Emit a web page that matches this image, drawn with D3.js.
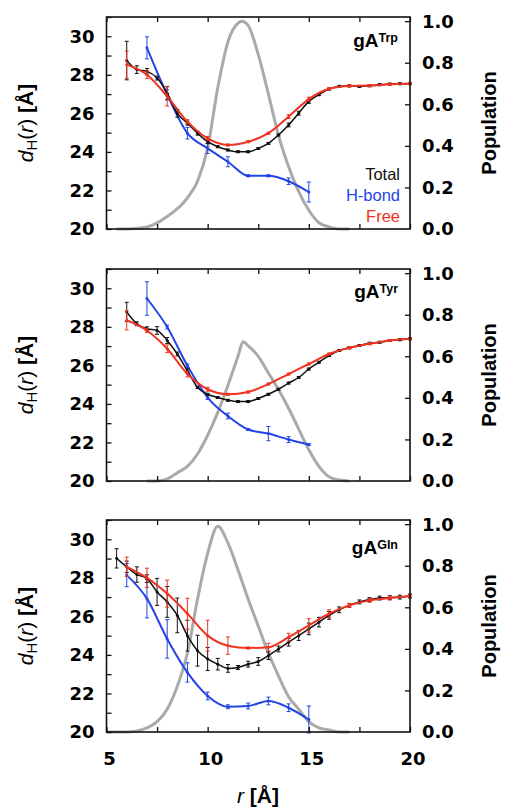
<!DOCTYPE html>
<html><head><meta charset="utf-8">
<script src="https://cdn.jsdelivr.net/npm/d3@7"></script>
<style>body{margin:0;background:#fff}svg{display:block}</style>
</head><body>
<svg id="c" width="514" height="812"></svg>
<script>
// ---------- data ----------
const panelNames = ["Trp", "Tyr", "Gln"];
const xTicks = [5, 10, 15, 20];
const yLeftTicks = [20, 22, 24, 26, 28, 30];
const yRightTicks = [0.0, 0.2, 0.4, 0.6, 0.8, 1.0];
const legendLabels = ["Total", "H-bond", "Free"];

// gA-Trp
const trpTotalR = [6,6.5,7,7.5,8,8.5,9,9.5,10,10.5,11,11.5,12,12.5,13,13.5,14,14.5,15,15.5,16,16.5,17,17.5,18,18.5,19,19.5,20];
const trpTotalV = [28.74,28.27,28.18,27.83,27.05,26.0,25.49,24.97,24.53,24.27,24.10,24.01,24.01,24.18,24.44,24.88,25.40,26.01,26.62,26.97,27.26,27.40,27.43,27.40,27.43,27.49,27.52,27.54,27.54];
const trpTotalE = [1.0,0.2,0.15,0.1,0.35,0.2,0.1,0.1,0.1,0.05,0.05,0.05,0.05,0.05,0.05,0.05,0.1,0.1,0.1,0.05,0.05,0.05,0.05,0.05,0.05,0.05,0.05,0.05,0.05];
const trpFreeR = [6,7,8,9,10,11,12,13,14,15,16,17,18,19,20];
const trpFreeV = [28.53,28.0,26.88,25.57,24.70,24.36,24.53,24.97,25.83,26.74,27.28,27.42,27.44,27.51,27.55];
const trpFreeE = [0.7,0.2,0.5,0.1,0.1,0.05,0.05,0.05,0.1,0.1,0.05,0.05,0.05,0.05,0.05];
const trpHbR = [7,8,9,10,11,12,13,14,15];
const trpHbV = [29.40,26.97,24.97,24.18,23.49,22.76,22.76,22.48,21.92];
const trpHbE = [0.57,0.25,0.3,0.26,0.26,0.05,0.05,0.17,0.52];
const trpPopR = [5.5,6,7,8,9,9.5,10,10.5,11,11.5,11.7,12,12.5,13,13.5,14,14.5,15,15.5,16,16.5,17];
const trpPopV = [0,0,0.01,0.06,0.15,0.23,0.39,0.68,0.90,0.99,1.0,0.98,0.84,0.65,0.45,0.30,0.18,0.09,0.03,0.01,0,0];

// gA-Tyr
const tyrTotalR = trpTotalR;
const tyrTotalV = [28.77,28.16,27.90,27.81,27.29,26.59,25.72,24.85,24.50,24.33,24.19,24.12,24.12,24.28,24.50,24.76,25.08,25.37,25.81,26.16,26.51,26.77,26.91,27.03,27.15,27.20,27.29,27.33,27.38];
const tyrTotalE = [0.5,0.1,0.1,0.2,0.15,0.1,0.1,0.05,0.05,0.05,0.05,0.05,0.05,0.05,0.05,0.05,0.05,0.05,0.05,0.05,0.05,0.05,0.05,0.05,0.05,0.05,0.05,0.05,0.05];
const tyrFreeR = trpFreeR;
const tyrFreeV = [28.34,27.81,26.86,25.55,24.76,24.50,24.62,25.03,25.55,26.07,26.59,26.91,27.12,27.29,27.38];
const tyrFreeE = [0.5,0.1,0.2,0.15,0.1,0.05,0.05,0.05,0.05,0.05,0.05,0.05,0.05,0.05,0.05];
const tyrHbR = trpHbR;
const tyrHbV = [29.47,27.99,25.98,24.33,23.37,22.67,22.46,22.15,21.89];
const tyrHbE = [0.87,0.1,0.1,0.1,0.15,0.05,0.37,0.15,0.05];
const tyrPopR = [7,7.5,8,8.5,9,9.5,10,10.5,11,11.5,11.75,12,12.5,13,13.5,14,14.5,15,15.5,16,16.5,17];
const tyrPopV = [0,0,0.01,0.04,0.07,0.13,0.22,0.33,0.46,0.60,0.67,0.65,0.60,0.52,0.44,0.35,0.25,0.15,0.07,0.02,0.005,0];

// gA-Gln
const glnTotalR = [5.5,6,6.5,7,7.5,8,8.5,9,9.5,10,10.5,11,11.5,12,12.5,13,13.5,14,14.5,15,15.5,16,16.5,17,17.5,18,18.5,19,19.5,20];
const glnTotalV = [29.01,28.57,28.17,27.96,27.27,26.75,26.05,25.0,24.22,23.79,23.52,23.30,23.35,23.52,23.66,23.96,24.31,24.66,25.0,25.35,25.70,26.05,26.34,26.57,26.75,26.87,26.95,26.97,27.0,27.06];
const glnTotalE = [0.5,0.3,0.4,0.2,0.7,0.8,0.9,0.8,0.8,0.6,0.3,0.2,0.1,0.15,0.2,0.2,0.15,0.2,0.25,0.3,0.25,0.2,0.15,0.1,0.1,0.1,0.1,0.1,0.1,0.1];
const glnFreeR = trpFreeR;
const glnFreeV = [28.57,28.0,27.18,26.14,25.0,24.48,24.36,24.40,24.92,25.53,26.14,26.57,26.83,26.95,27.06];
const glnFreeE = [0.5,0.5,0.7,0.8,0.8,0.45,0.05,0.2,0.2,0.35,0.2,0.1,0.1,0.1,0.1];
const glnHbR = [6,7,8,9,10,11,12,13,14,15];
const glnHbV = [28.14,26.92,24.83,23.09,21.87,21.31,21.35,21.61,21.26,20.65];
const glnHbE = [0.6,1.0,1.0,0.5,0.2,0.1,0.15,0.2,0.2,0.7];
const glnPopR = [5,6,7,7.5,8,8.5,9,9.5,10,10.5,11,11.5,12,12.5,13,13.5,14,14.5,15,15.5,16,16.5,17];
const glnPopV = [0,0,0.02,0.05,0.11,0.22,0.38,0.64,0.86,0.99,0.91,0.78,0.64,0.51,0.38,0.27,0.17,0.11,0.05,0.02,0.01,0,0];

const panels = [
  {name:"Trp", total:[trpTotalR,trpTotalV,trpTotalE], free:[trpFreeR,trpFreeV,trpFreeE], hb:[trpHbR,trpHbV,trpHbE], pop:[trpPopR,trpPopV]},
  {name:"Tyr", total:[tyrTotalR,tyrTotalV,tyrTotalE], free:[tyrFreeR,tyrFreeV,tyrFreeE], hb:[tyrHbR,tyrHbV,tyrHbE], pop:[tyrPopR,tyrPopV]},
  {name:"Gln", total:[glnTotalR,glnTotalV,glnTotalE], free:[glnFreeR,glnFreeV,glnFreeE], hb:[glnHbR,glnHbV,glnHbE], pop:[glnPopR,glnPopV]}
];

// ---------- layout ----------
const svg = d3.select("#c");
const L = 106.5, R = 410, H = 212;
const tops = [17, 269, 520];
const labelOffsets = [30, 29, 34];
const COL = {total:"#111111", hb:"#2244e8", free:"#ee3322", pop:"#aaaaaa"};
const tickFont = "'DejaVu Sans', sans-serif";
const x = d3.scaleLinear().domain([5,20]).range([L,R]);

panels.forEach((p, i) => {
  const top = tops[i];
  const y = d3.scaleLinear().domain([20,31]).range([top+H, top]);
  const y2 = d3.scaleLinear().domain([0,1.02]).range([top+H, top]);
  const g = svg.append("g");

  // population curve
  const popData = p.pop[0].map((r,k)=>[r,p.pop[1][k]]);
  g.append("path").datum(popData)
    .attr("d", d3.line().x(d=>x(d[0])).y(d=>y2(d[1])).curve(d3.curveMonotoneX))
    .attr("fill","none").attr("stroke",COL.pop).attr("stroke-width",3);

  const drawSeries = (s, col, w) => {
    const data = s[0].map((r,k)=>({r, v:s[1][k], e:s[2][k]}));
    g.append("path").datum(data)
      .attr("d", d3.line().x(d=>x(d.r)).y(d=>y(d.v)).curve(d3.curveMonotoneX))
      .attr("fill","none").attr("stroke",col).attr("stroke-width",w);
    const eb = g.append("g").attr("stroke",col).attr("stroke-width",1);
    data.forEach(d => {
      eb.append("line").attr("x1",x(d.r)).attr("x2",x(d.r)).attr("y1",y(d.v-d.e)).attr("y2",y(d.v+d.e));
      eb.append("line").attr("x1",x(d.r)-2).attr("x2",x(d.r)+2).attr("y1",y(d.v-d.e)).attr("y2",y(d.v-d.e));
      eb.append("line").attr("x1",x(d.r)-2).attr("x2",x(d.r)+2).attr("y1",y(d.v+d.e)).attr("y2",y(d.v+d.e));
    });
    g.append("g").selectAll("circle").data(data).join("circle")
      .attr("cx",d=>x(d.r)).attr("cy",d=>y(d.v)).attr("r",1.5).attr("fill",col);
  };
  drawSeries(p.hb, COL.hb, 2);
  drawSeries(p.total, COL.total, 1.5);
  drawSeries(p.free, COL.free, 2);

  // axes (inward ticks)
  const fmtNone = () => "";
  g.append("g").attr("transform",`translate(${L},0)`)
    .call(d3.axisRight(y).tickValues(d3.range(20,31.5,1)).tickSize(5).tickFormat(fmtNone))
    .call(a=>a.select(".domain").remove());
  g.append("g").attr("transform",`translate(${R},0)`)
    .call(d3.axisLeft(y2).tickValues([0.2,0.4,0.6,0.8,1.0]).tickSize(5).tickFormat(fmtNone))
    .call(a=>a.select(".domain").remove());
  g.append("g").attr("transform",`translate(0,${top+H})`)
    .call(d3.axisTop(x).tickValues(d3.range(5,20.1,2.5)).tickSize(5).tickFormat(fmtNone))
    .call(a=>a.select(".domain").remove());
  g.append("g").attr("transform",`translate(0,${top})`)
    .call(d3.axisBottom(x).tickValues(d3.range(5,20.1,2.5)).tickSize(5).tickFormat(fmtNone))
    .call(a=>a.select(".domain").remove());
  g.selectAll(".tick line").attr("stroke","#111").attr("stroke-width",1.3);

  g.append("rect").attr("x",L).attr("y",top).attr("width",R-L).attr("height",H)
    .attr("fill","none").attr("stroke","#111").attr("stroke-width",1.6);

  // tick labels
  g.append("g").selectAll("text").data(yLeftTicks).join("text")
    .attr("x",L-12).attr("y",d=>y(d)).attr("dy","0.36em").attr("text-anchor","end")
    .attr("font-family",tickFont).attr("font-weight","bold").attr("font-size",18).text(d=>d);
  g.append("g").selectAll("text").data(yRightTicks).join("text")
    .attr("x",R+12).attr("y",d=>y2(d)).attr("dy","0.36em").attr("text-anchor","start")
    .attr("font-family",tickFont).attr("font-weight","bold").attr("font-size",18).text(d=>d.toFixed(1));

  // y titles
  const cy = top + H/2;
  const lt = g.append("text").attr("transform",`translate(33,${cy}) rotate(-90)`)
    .attr("text-anchor","middle").attr("font-family","'Liberation Sans', Arial, sans-serif").attr("font-size",21);
  lt.append("tspan").attr("font-style","italic").text("d");
  lt.append("tspan").attr("font-size",15).attr("dy",4).text("H");
  lt.append("tspan").attr("dy",-4).text("(");
  lt.append("tspan").attr("font-style","italic").text("r");
  lt.append("tspan").text(") ");
  lt.append("tspan").attr("font-weight","bold").text("[Å]");

  g.append("text").attr("transform",`translate(496,${cy}) rotate(-90)`)
    .attr("text-anchor","middle").attr("font-family","'Liberation Sans', Arial, sans-serif")
    .attr("font-weight","bold").attr("font-size",20).text("Population");

  // panel label
  const pl = g.append("text").attr("x",R-12).attr("y",top+labelOffsets[i]).attr("text-anchor","end")
    .attr("font-family","'Liberation Sans', Arial, sans-serif").attr("font-weight","bold").attr("font-size",19);
  pl.append("tspan").text("gA");
  pl.append("tspan").attr("font-size",12.5).attr("dy",-5).text(p.name);

  // legend in first panel
  if (i === 0) {
    const cols = [COL.total, COL.hb, COL.free];
    g.append("g").selectAll("text").data(legendLabels).join("text")
      .attr("x",R-10).attr("y",(d,k)=>top+163+k*21).attr("text-anchor","end")
      .attr("font-family","'Liberation Sans', Arial, sans-serif").attr("font-size",16.5)
      .attr("fill",(d,k)=>cols[k]).text(d=>d);
  }

  // x tick labels on bottom panel
  if (i === 2) {
    g.append("g").selectAll("text").data(xTicks).join("text")
      .attr("x",d=>x(d)+3).attr("y",top+H+33).attr("text-anchor","middle")
      .attr("font-family",tickFont).attr("font-weight","bold").attr("font-size",18).text(d=>d);
    const xt = g.append("text").attr("x",258).attr("y",803).attr("text-anchor","middle")
      .attr("font-family","'Liberation Sans', Arial, sans-serif").attr("font-size",21);
    xt.append("tspan").attr("font-style","italic").text("r ");
    xt.append("tspan").attr("font-weight","bold").text("[Å]");
  }
});
</script>
</body></html>
